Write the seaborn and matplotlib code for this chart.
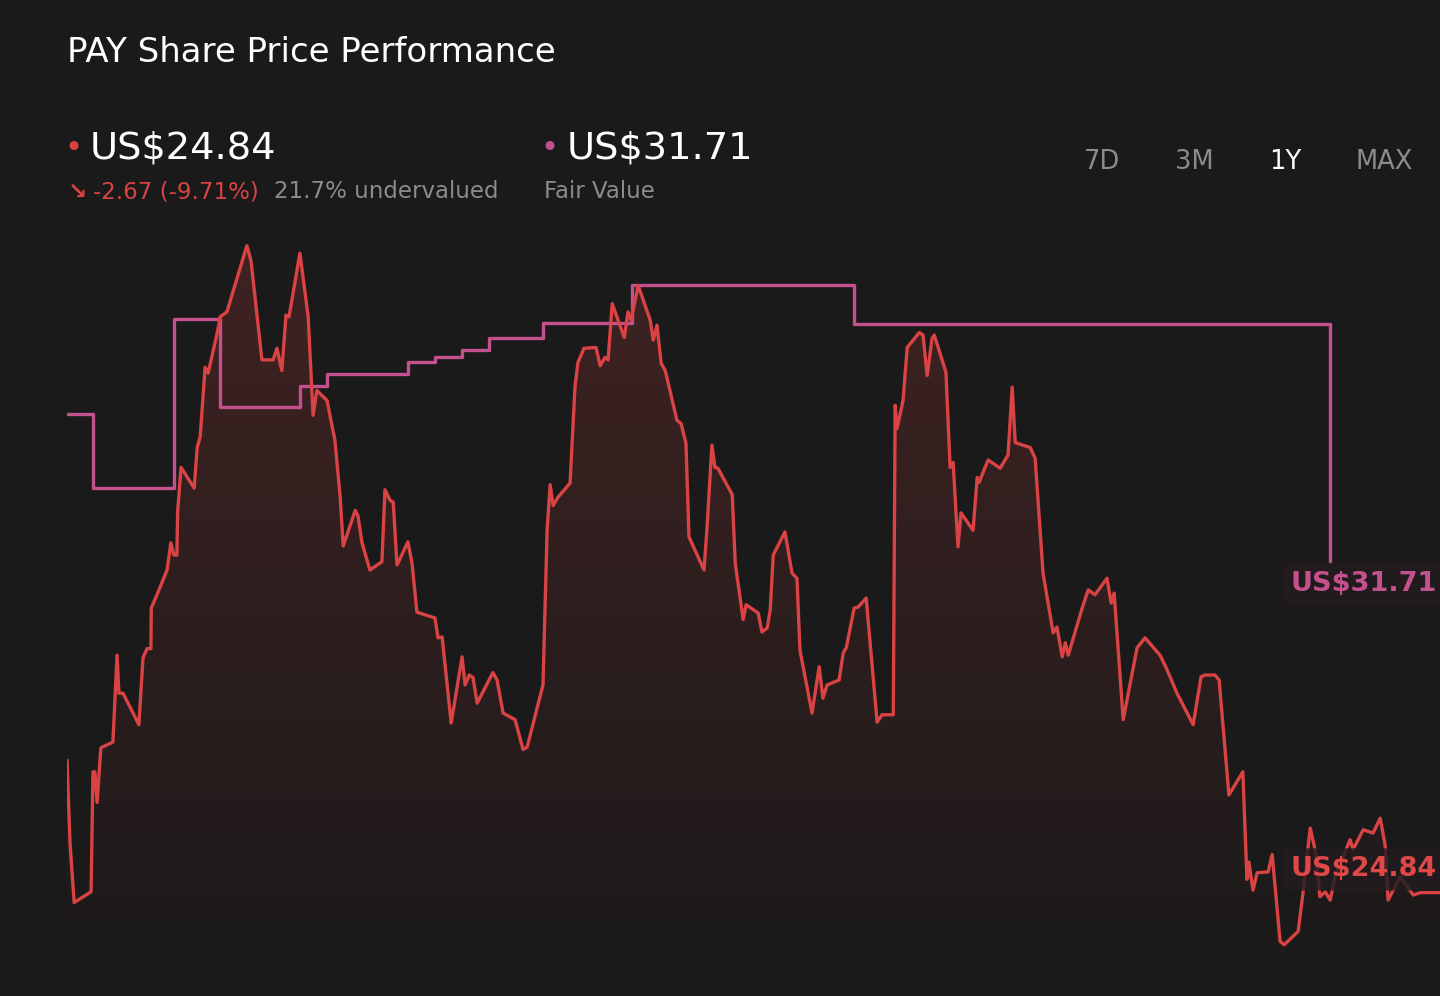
import numpy as np
import pandas as pd
import matplotlib
matplotlib.use("Agg")
import matplotlib.pyplot as plt
import seaborn as sns
from matplotlib.patches import Polygon
from matplotlib.colors import to_rgb

# price history, days since start of the 1Y window
days = [0.0, 0.8, 1.9, 6.4, 6.9, 7.4, 8.0, 9.0, 12.2, 13.3, 13.8, 14.9, 19.1, 20.2, 21.3, 22.3, 22.4,
        23.9, 26.6, 27.6, 28.4, 29.2, 29.4, 30.3, 33.8, 34.6, 35.4, 36.7, 37.5, 39.9, 40.7, 42.5,
        47.8, 48.9, 51.8, 54.8, 55.8, 57.1, 58.2, 59.0, 61.9, 64.1, 65.4, 66.4, 69.1, 71.2, 72.6,
        73.4, 76.6, 77.3, 78.4, 80.5, 83.7, 84.5, 85.9, 86.7, 87.7, 90.6, 91.7, 93.0, 97.8, 98.6,
        99.7, 102.1, 105.0, 105.8, 106.9, 107.9, 109.0, 113.2, 114.3, 115.9, 119.1, 121.2, 122.3,
        126.5, 127.6, 128.4, 129.2, 130.5, 133.7, 135.0, 135.8, 137.4, 140.6, 141.7, 143.0, 143.8,
        144.9, 148.1, 149.1, 149.9, 151.8, 155.0, 155.8, 156.8, 157.9, 159.0, 162.1, 163.2, 164.5,
        165.3, 169.3, 170.1, 171.4, 172.2, 173.0, 176.8, 177.6, 179.7, 180.5, 183.7, 184.7, 186.1,
        186.9, 187.7, 190.8, 192.7, 194.0, 194.8, 198.0, 199.9, 200.9, 202.0, 205.2, 206.3, 207.1,
        209.2, 210.2, 212.4, 215.3, 216.6, 219.6, 220.1, 220.6, 222.2, 223.3, 226.5, 227.5, 228.6,
        229.9, 230.5, 233.6, 234.7, 235.5, 236.8, 237.6, 240.8, 241.9, 242.4, 244.8, 248.0, 250.1,
        251.2, 252.0, 256.0, 257.3, 259.4, 262.1, 263.1, 264.5, 265.3, 266.1, 269.8, 271.4, 273.2,
        276.4, 277.5, 278.3, 280.7, 284.4, 286.5, 290.5, 292.4, 295.0, 299.3, 301.4, 302.5, 305.1,
        306.2, 308.8, 312.5, 313.6, 314.1, 315.2, 316.3, 319.2, 320.3, 322.4, 323.5, 327.2, 328.5,
        330.4, 331.7, 333.0, 334.4, 335.7, 337.0, 341.0, 341.8, 344.5, 347.1, 349.0, 350.3, 351.1,
        354.3, 357.8, 359.7, 364.9]
price = [26.44, 25.44, 24.72, 24.85, 26.30, 26.30, 25.93, 26.59, 26.66, 27.71, 27.25, 27.25, 26.87,
         27.68, 27.79, 27.79, 28.28, 28.44, 28.74, 29.07, 28.92, 28.92, 29.44, 29.98, 29.73, 30.22,
         30.35, 31.19, 31.12, 31.60, 31.80, 31.86, 32.66, 32.48, 31.28, 31.28, 31.42, 31.15, 31.82,
         31.80, 32.57, 31.80, 30.61, 30.91, 30.79, 30.31, 29.62, 29.03, 29.46, 29.40, 29.07, 28.74,
         28.84, 29.71, 29.58, 29.56, 28.80, 29.08, 28.82, 28.23, 28.16, 27.92, 27.93, 26.89, 27.69,
         27.35, 27.47, 27.44, 27.13, 27.50, 27.41, 27.01, 26.93, 26.57, 26.60, 27.35, 29.22, 29.77,
         29.52, 29.62, 29.79, 30.95, 31.25, 31.42, 31.43, 31.21, 31.31, 31.28, 31.96, 31.55, 31.86,
         31.76, 32.18, 31.76, 31.52, 31.70, 31.24, 31.15, 30.55, 30.51, 30.27, 29.14, 28.74, 29.25,
         30.25, 29.98, 29.97, 29.65, 28.82, 28.14, 28.32, 28.22, 27.99, 28.04, 28.26, 28.92, 29.20,
         28.70, 28.64, 27.77, 27.01, 27.57, 27.19, 27.35, 27.41, 27.74, 27.80, 28.28, 28.29, 28.40,
         26.90, 26.99, 26.99, 30.73, 30.45, 30.79, 31.43, 31.61, 31.58, 31.09, 31.54, 31.58, 31.13,
         29.98, 30.04, 29.02, 29.43, 29.22, 29.86, 29.80, 30.07, 29.97, 30.13, 30.95, 30.28, 30.22,
         30.09, 28.70, 27.98, 28.05, 27.69, 27.86, 27.71, 28.28, 28.50, 28.44, 28.64, 28.34, 28.46,
         26.93, 27.80, 27.92, 27.71, 27.53, 27.25, 26.87, 27.45, 27.47, 27.47, 27.41, 26.02, 26.30,
         25.00, 25.21, 24.87, 25.08, 25.09, 25.30, 24.25, 24.21, 24.37, 24.84, 25.62, 25.36, 24.79,
         24.85, 24.75, 25.03, 25.48, 25.36, 25.60, 25.56, 25.74, 25.42, 24.75, 25.03, 24.81, 24.84,
         24.84]

# analyst fair value steps
fv_days = [0.0, 6.9, 28.4, 40.7, 61.9, 69.1, 90.6, 97.8, 105.0, 112.2, 126.5, 150.2, 209.2]
fv_vals = [30.62, 29.73, 31.78, 30.71, 30.96, 31.11, 31.25, 31.32, 31.40, 31.54, 31.73, 32.19, 31.71]
fv_end_day = 335.7

last_price = "US$24.84"
fair_value = "US$31.71"
change_text = "-2.67 (-9.71%)"
valuation_text = "21.7% undervalued"
periods = ["7D", "3M", "1Y", "MAX"]

bg = "#1b1a1a"
red = "#d94343"
pink = "#c4508e"
grey = "#8c8c8c"

sns.set_theme(style="dark")
plt.rcParams["font.family"] = ["DejaVu Sans"]

fig = plt.figure(figsize=(14.4, 9.96), dpi=100, facecolor=bg)
W, H = 1440, 996
ax = fig.add_axes([67 / W, 0, 1 - 67 / W, 766 / H])
ax.set_facecolor(bg)
ymin, ymax = 23.59, 32.85

# gradient fill under price line
verts = [(days[0], ymin)] + list(zip(days, price)) + [(days[-1], ymin)]
poly = Polygon(verts, closed=True, facecolor="none", edgecolor="none")
ax.add_patch(poly)
rgba = np.zeros((256, 1, 4))
rgba[..., :3] = to_rgb(red)
rgba[..., 3] = np.linspace(0.20, 0.0, 256).reshape(-1, 1)
im = ax.imshow(rgba, extent=[days[0], days[-1], ymin, max(price)], aspect="auto",
               origin="upper", zorder=1)
im.set_clip_path(poly)

df = pd.DataFrame({"day": days, "price": price})
fv = pd.DataFrame({"day": fv_days + [fv_end_day], "fair": fv_vals + [fv_vals[-1]]})

sns.lineplot(data=fv, x="day", y="fair", color=pink, lw=2.4, drawstyle="steps-post",
             estimator=None, ax=ax, zorder=3)
sns.lineplot(data=df, x="day", y="price", color=red, lw=2.4, estimator=None, ax=ax, zorder=4)

# end labels
fv_label_y = fv_vals[-1] - 3.14
price_label_y = price[-1] + 0.28
ax.plot([fv_end_day, fv_end_day], [fv_vals[-1], fv_label_y + 0.24], color=pink, lw=2.4, zorder=3)
box = dict(boxstyle="round,pad=0.3,rounding_size=0.3", facecolor="#221c1f", edgecolor="none",
           alpha=0.95)
ax.text(fv_end_day - 10.6, fv_label_y, fair_value, color=pink, fontsize=19.5, fontweight="bold",
        va="center", ha="left", bbox=box, zorder=6, clip_on=False)
ax.text(fv_end_day - 10.6, price_label_y, last_price, color="#e04848", fontsize=19.5,
        fontweight="bold", va="center", ha="left", bbox=dict(box, alpha=0.82), zorder=6,
        clip_on=False)

ax.set_xlim(days[0], days[-1])
ax.set_ylim(ymin, ymax)
ax.set_xlabel("")
ax.set_ylabel("")
ax.set_xticks([])
ax.set_yticks([])
for s in ax.spines.values():
    s.set_visible(False)

# header
fig.text(67 / W, 1 - 53 / H, "PAY Share Price Performance", color="white", fontsize=24.5,
         va="center")
fig.text(64 / W, 1 - 148 / H, "\u2022", color=red, fontsize=22, va="center")
fig.text(90 / W, 1 - 148 / H, last_price, color="white", fontsize=27.6, va="center")
fig.text(68 / W, 1 - 192 / H, "\u2198", color=red, fontsize=16.5, va="center", fontweight="bold")
fig.text(93 / W, 1 - 192 / H, change_text, color=red, fontsize=16.5, va="center")
fig.text(274 / W, 1 - 192 / H, valuation_text, color=grey, fontsize=16.5, va="center")
fig.text(540 / W, 1 - 148 / H, "\u2022", color=pink, fontsize=22, va="center")
fig.text(567 / W, 1 - 148 / H, fair_value, color="white", fontsize=27.6, va="center")
fig.text(544 / W, 1 - 192 / H, "Fair Value", color=grey, fontsize=16.5, va="center")

for label, xc in zip(periods, [1102, 1194, 1285, 1384]):
    fig.text(xc / W, 1 - 162 / H, label, color="white" if label == "1Y" else grey,
             fontsize=18.5, va="center", ha="center")

fig.savefig("out.png", dpi=100, facecolor=bg)
